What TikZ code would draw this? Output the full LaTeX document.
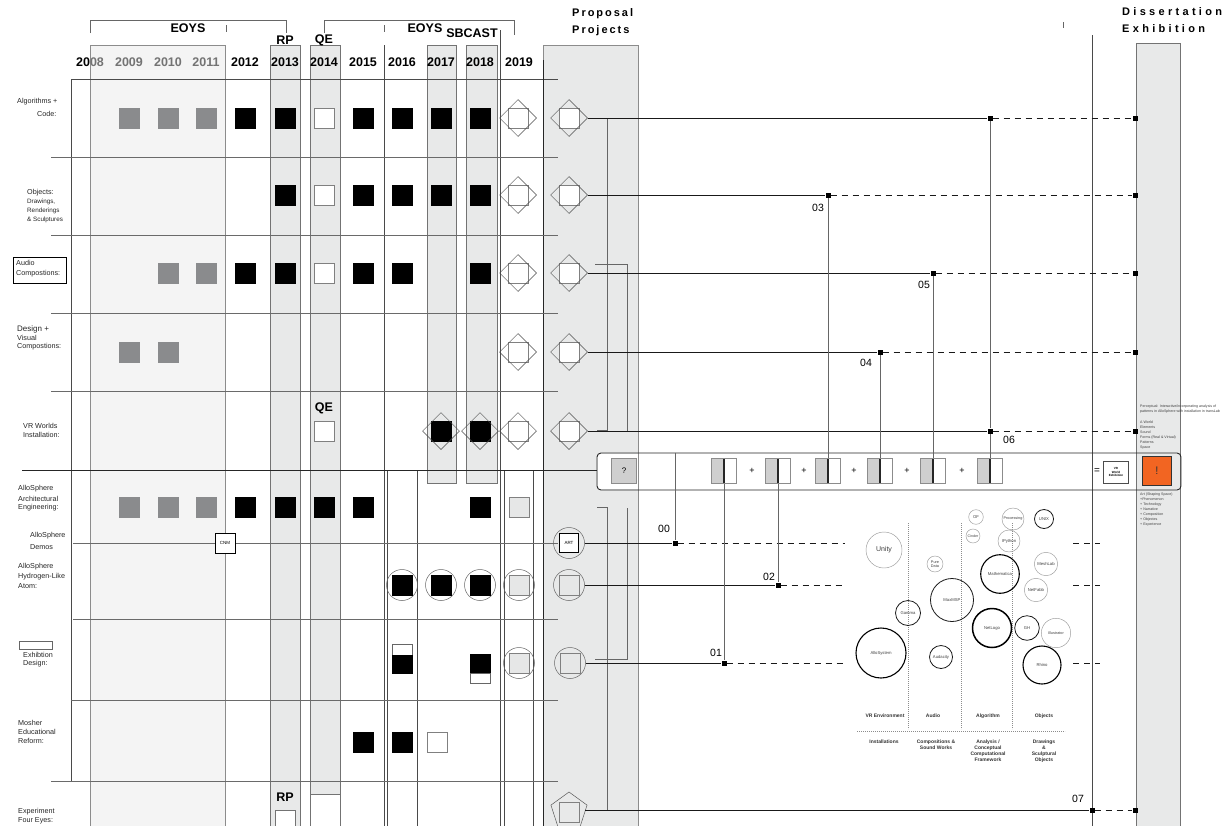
\documentclass[tikz,border=0pt]{standalone}
\usepackage{fontspec}
\setmainfont{Liberation Sans}
\newfontfamily\spcfont{Liberation Sans}[LetterSpace=30]
\newfontfamily\spcfontb{Liberation Sans}[LetterSpace=18]
\usetikzlibrary{shapes.geometric}
\definecolor{shA}{HTML}{F4F4F4}
\definecolor{shB}{HTML}{E8E9E9}
\definecolor{sqG}{HTML}{8A8B8D}
\definecolor{sqL}{HTML}{E6E7E7}
\definecolor{sqS}{HTML}{CFCFCF}
\definecolor{orng}{HTML}{F26522}
\definecolor{lnC}{HTML}{4A4A4A}
\definecolor{rwC}{HTML}{6A6A6A}
\newcommand\myfs[2]{\fontsize{#1}{#2}\selectfont}
\begin{document}
\begin{tikzpicture}[x=1pt,y=-1pt,
  sq/.style={rectangle,minimum size=20pt,inner sep=0pt,line width=0.5pt},
  bk/.style={sq,fill=black,draw=black},
  gy/.style={sq,fill=sqG,draw=sqG},
  wt/.style={sq,fill=white,draw=gray},
  lg/.style={sq,fill=sqL,draw=gray},
  dm/.style={diamond,draw=black!70,minimum size=37pt,inner sep=0pt,line width=0.5pt},
  cr/.style={circle,draw=black!60,minimum size=31pt,inner sep=0pt,line width=0.5pt},
  mk/.style={rectangle,fill=black,minimum size=5pt,inner sep=0pt},
  lbl/.style={font=\myfs{7.2}{8},text=black!85,anchor=west,inner sep=0pt},
  yr/.style={font=\bfseries\myfs{12.5}{14},inner sep=0pt},
  hd/.style={font=\bfseries\myfs{12.5}{14},inner sep=0pt},
  num/.style={font=\myfs{10.5}{12},inner sep=0pt},
  con/.style={line width=0.9pt,black!90},
  dsh/.style={line width=0.9pt,black!90,dash pattern=on 6pt off 5pt},
  vc/.style={line width=0.5pt,black!60},
  br/.style={line width=0.5pt,black!60},
  split/.style={rectangle,minimum size=25pt,inner sep=0pt,draw=black!45,fill=white,line width=0.5pt,
    path picture={\fill[sqS] (path picture bounding box.south west) rectangle (path picture bounding box.north);
      \draw[black!85,line width=1.2pt] (path picture bounding box.south west) rectangle (path picture bounding box.north);}},
  bub/.style={circle,inner sep=0pt,font=\myfs{4.2}{5},text=black!75},
  thin/.style={draw=black!40,line width=0.45pt},
  med/.style={draw=black!90,line width=0.8pt},
  thk/.style={draw=black,line width=1.1pt},
  bl/.style={font=\bfseries\myfs{5}{6},inner sep=0pt,text=black!80,align=center},
  tiny/.style={font=\myfs{3.6}{5},inner sep=0pt,anchor=north west,align=left,text=black!75},
  dot/.style={black!45,line width=0.5pt,dash pattern=on 0.6pt off 1.4pt}
]
\useasboundingbox (0,0) rectangle (1231,825);
\fill[white] (0,0) rectangle (1231,825);

% ---- shaded columns ----
\filldraw[fill=shA,draw=black!45,line width=0.5pt] (90,45) rectangle (225,830);
\filldraw[fill=shB,draw=black!55,line width=0.5pt] (270,45) rectangle (300,830);
\filldraw[fill=shB,draw=black!55,line width=0.5pt] (310,45) rectangle (340,794);
\draw[black!55,line width=0.5pt] (310,794) rectangle (340,830);
\filldraw[fill=shB,draw=black!55,line width=0.5pt] (427,45) rectangle (456,483);
\filldraw[fill=shB,draw=black!55,line width=0.5pt] (466,45) rectangle (497,483);
\filldraw[fill=shB,draw=black!45,line width=0.5pt] (543,45) rectangle (638,830);
\filldraw[fill=shB,draw=black!55,line width=0.5pt] (1136,43) rectangle (1180,830);

% ---- grid ----
\draw[lnC,line width=0.6pt] (71,79) -- (558,79);
\draw[lnC,line width=0.6pt] (71,79) -- (71,781);
\draw[lnC,line width=0.6pt] (384,45) -- (384,830);
\draw[lnC,line width=0.6pt] (500,30) -- (500,830);
\draw[lnC,line width=0.6pt] (387,470) -- (387,830);
\draw[lnC,line width=0.6pt] (417,470) -- (417,830);
\draw[lnC,line width=0.6pt] (504,470) -- (504,830);
\draw[lnC,line width=0.6pt] (533,470) -- (533,830);
\draw[black!85,line width=0.8pt] (543,60) -- (543,830);
\foreach \yy in {157,235,313,391} \draw[rwC,line width=0.6pt] (51,\yy) -- (558,\yy);
\draw[rwC,line width=0.6pt] (73,543) -- (558,543);
\draw[rwC,line width=0.6pt] (73,619) -- (558,619);
\draw[rwC,line width=0.6pt] (71,700) -- (558,700);
\draw[rwC,line width=0.6pt] (51,781) -- (558,781);
\draw[black!85,line width=0.9pt] (22,470) -- (597,470);

% ---- header ----
\draw[black!60,line width=0.6pt] (90,33) -- (90,20) -- (286,20) -- (286,33);
\draw[black!60,line width=0.6pt] (226,25) -- (226,32);
\draw[black!60,line width=0.6pt] (324,33) -- (324,20) -- (514,20) -- (514,35);
\draw[black!60,line width=0.6pt] (384,25) -- (384,32);
\draw[black!60,line width=0.6pt] (1063,22) -- (1063,28);
\node[hd] (hE1) at (188,28) {EOYS};
\node[hd] (hRP) at (285,40) {RP};
\node[hd] (hQE) at (324,40) {QE};
\node[hd] (hE2) at (425,28) {EOYS};
\node[hd] (hSB) at (472,33) {SBCAST};
\node[font=\spcfontb\bfseries\myfs{11}{13},inner sep=0pt,anchor=west] (hPP1) at (572,14) {Proposal};
\node[font=\spcfontb\bfseries\myfs{11}{13},inner sep=0pt,anchor=west] (hPP2) at (572,31) {Projects};
\node[font=\spcfont\bfseries\myfs{11}{13},inner sep=0pt,anchor=west] (hDE1) at (1122,12) {Dissertation};
\node[font=\spcfont\bfseries\myfs{11}{13},inner sep=0pt,anchor=west] (hDE2) at (1122,29) {Exhibition};

% years
\node[yr] (y08) at (90,62) {20\textcolor{black!55}{08}};
\node[yr,text=black!55] (y09) at (129,62) {2009};
\node[yr,text=black!55] (y10) at (168,62) {2010};
\node[yr,text=black!55] (y11) at (206,62) {2011};
\node[yr] (y12) at (245,62) {2012};
\node[yr] (y13) at (285,62) {2013};
\node[yr] (y14) at (324,62) {2014};
\node[yr] (y15) at (363,62) {2015};
\node[yr] (y16) at (402,62) {2016};
\node[yr] (y17) at (441,62) {2017};
\node[yr] (y18) at (480,62) {2018};
\node[yr] (y19) at (519,62) {2019};

% ---- row labels ----
\node[lbl] (lA1) at (17,102) {Algorithms +};
\node[lbl] (lA2) at (37,114) {Code:};
\node[lbl] (lO1) at (27,193) {Objects:};
\node[lbl,font=\myfs{6.3}{7}] (lO2) at (27,202) {Drawings,};
\node[lbl,font=\myfs{6.3}{7}] (lO3) at (27,211) {Renderings};
\node[lbl,font=\myfs{6.3}{7}] (lO4) at (27,220) {\& Sculptures};
\draw[black,line width=0.7pt] (13,257) rectangle (66,283);
\node[lbl] (lAu1) at (16,263) {Audio};
\node[lbl] (lAu2) at (16,274) {Compostions:};
\node[lbl,font=\myfs{8}{9}] (lD1) at (17,329) {Design +};
\node[lbl] (lD2) at (17,338) {Visual};
\node[lbl] (lD3) at (17,347) {Compostions:};
\node[lbl] (lV1) at (23,426) {VR Worlds};
\node[lbl] (lV2) at (23,435) {Installation:};
\node[lbl] (lE1) at (18,489) {AlloSphere};
\node[lbl] (lE2) at (18,499) {Architectural};
\node[lbl] (lE3) at (18,508) {Engineering:};
\node[lbl] (lM1) at (30,536) {AlloSphere};
\node[lbl] (lM2) at (30,547) {Demos};
\node[lbl] (lH1) at (18,567) {AlloSphere};
\node[lbl] (lH2) at (18,577) {Hydrogen-Like};
\node[lbl] (lH3) at (18,586) {Atom:};
\draw[black!60,line width=0.6pt] (19,641) rectangle (52,649);
\node[lbl] (lX1) at (23,655) {Exhibtion};
\node[lbl] (lX2) at (23,664) {Design:};
\node[lbl] (lR1) at (18,723) {Mosher};
\node[lbl] (lR2) at (18,732) {Educational};
\node[lbl] (lR3) at (18,741) {Reform:};
\node[lbl] (lF1) at (18,812) {Experiment};
\node[lbl] (lF2) at (18,821) {Four Eyes:};

% ---- Algorithms row (118) ----
\node[gy] (a09) at (129,118) {};
\node[gy] (a10) at (168,118) {};
\node[gy] (a11) at (206,118) {};
\node[bk] (a12) at (245,118) {};
\node[bk] (a13) at (285,118) {};
\node[wt] (a14) at (324,118) {};
\node[bk] (a15) at (363,118) {};
\node[bk] (a16) at (402,118) {};
\node[bk] (a17) at (441,118) {};
\node[bk] (a18) at (480,118) {};
\node[wt] (a19) at (518,118) {};
\node[dm] (da19) at (518,118) {};
\node[wt] (aP) at (569,118) {};
\node[dm] (daP) at (569,118) {};

% ---- Objects row (195) ----
\node[bk] (o13) at (285,195) {};
\node[wt] (o14) at (324,195) {};
\node[bk] (o15) at (363,195) {};
\node[bk] (o16) at (402,195) {};
\node[bk] (o17) at (441,195) {};
\node[bk] (o18) at (480,195) {};
\node[wt] (o19) at (518,195) {};
\node[dm] (do19) at (518,195) {};
\node[wt] (oP) at (569,195) {};
\node[dm] (doP) at (569,195) {};

% ---- Audio row (273) ----
\node[gy] (u10) at (168,273) {};
\node[gy] (u11) at (206,273) {};
\node[bk] (u12) at (245,273) {};
\node[bk] (u13) at (285,273) {};
\node[wt] (u14) at (324,273) {};
\node[bk] (u15) at (363,273) {};
\node[bk] (u16) at (402,273) {};
\node[bk] (u18) at (480,273) {};
\node[wt] (u19) at (518,273) {};
\node[dm] (du19) at (518,273) {};
\node[wt] (uP) at (569,273) {};
\node[dm] (duP) at (569,273) {};

% ---- Design row (352) ----
\node[gy] (d09) at (129,352) {};
\node[gy] (d10) at (168,352) {};
\node[wt] (d19) at (518,352) {};
\node[dm] (dd19) at (518,352) {};
\node[wt] (dP) at (569,352) {};
\node[dm] (ddP) at (569,352) {};

% ---- VR row (431) ----
\node[hd] (vQE) at (324,408) {QE};
\node[wt] (v14) at (324,431) {};
\node[bk] (v17) at (441,431) {};
\node[dm] (dv17) at (441,431) {};
\node[bk] (v18) at (480,431) {};
\node[dm] (dv18) at (480,431) {};
\node[wt] (v19) at (518,431) {};
\node[dm] (dv19) at (518,431) {};
\node[wt] (vP) at (569,431) {};
\node[dm] (dvP) at (569,431) {};

% ---- AlloSphere Arch row (507) ----
\node[gy] (e09) at (129,507) {};
\node[gy] (e10) at (168,507) {};
\node[gy] (e11) at (206,507) {};
\node[bk] (e12) at (245,507) {};
\node[bk] (e13) at (285,507) {};
\node[bk] (e14) at (324,507) {};
\node[bk] (e15) at (363,507) {};
\node[bk] (e18) at (480,507) {};
\node[lg] (e19) at (519,507) {};

% ---- Demos row (543) ----
\node[sq,fill=white,draw=black,line width=0.7pt,font=\myfs{4.5}{5}] (cnm) at (225,543) {CNM};
\node[cr] (cART) at (569,543) {};
\node[sq,fill=white,draw=black,line width=0.9pt,minimum size=19pt,font=\myfs{4.5}{5}] (art) at (569,543) {ART};

% ---- Hydrogen row (585) ----
\node[cr] (ch16) at (402,585) {};
\node[bk] (h16) at (402,585) {};
\node[cr] (ch17) at (441,585) {};
\node[bk] (h17) at (441,585) {};
\node[cr] (ch18) at (480,585) {};
\node[bk] (h18) at (480,585) {};
\node[cr] (ch19) at (519,585) {};
\node[lg] (h19) at (519,585) {};
\node[cr] (chP) at (569,585) {};
\node[lg] (hP) at (569,585) {};

% ---- Exhibition row (663) ----
\filldraw[fill=white,draw=black!60,line width=0.5pt] (392,644) rectangle (412,655);
\filldraw[fill=black,draw=black] (392,655) rectangle (412,673);
\filldraw[fill=black,draw=black] (470,654) rectangle (490,673);
\filldraw[fill=white,draw=black!60,line width=0.5pt] (470,673) rectangle (490,683);
\node[cr] (cx19) at (519,663) {};
\node[lg] (x19) at (519,663) {};
\node[cr] (cxP) at (570,663) {};
\node[lg] (xP) at (570,663) {};

% ---- Mosher row (742) ----
\node[bk] (r15) at (363,742) {};
\node[bk] (r16) at (402,742) {};
\node[wt] (r17) at (437,742) {};

% ---- Experiment row ----
\node[hd] (fRP) at (285,797) {RP};
\draw[black!55,line width=0.5pt,fill=white] (275,810) rectangle (295,832);
\node[wt,fill=none] (fP) at (569,812) {};
\node[regular polygon,regular polygon sides=5,draw=black!65,minimum size=38pt,inner sep=0pt,line width=0.5pt] (pfP) at (569,811) {};

% ---- proposal brackets ----
\draw[br] (597,118) -- (607,118) -- (607,430) -- (597,430);
\draw[br] (597,507) -- (607,507) -- (607,811);
\draw[br] (595,264) -- (627,264) -- (627,431);
\draw[br] (627,508) -- (627,659) -- (595,659);

% ---- dissertation line ----
\draw[lnC,line width=0.6pt] (1092,35) -- (1092,830);

% ---- bar ----
\fill[white] (598,454) rectangle (638,489);
\node[draw=black!85,line width=0.9pt,rounded corners=4pt,minimum width=584pt,minimum height=37pt,inner sep=0pt] (bar) at (889,471.5) {};
\node[rectangle,minimum size=25pt,inner sep=0pt,fill=sqS,draw=black!45,font=\myfs{8}{9}] (qm) at (624,471) {?};
\node[split] (s1) at (724,471) {};
\node[split] (s2) at (778,471) {};
\node[split] (s3) at (828,471) {};
\node[split] (s4) at (880,471) {};
\node[split] (s5) at (933,471) {};
\node[split] (s6) at (990,471) {};
\node[font=\myfs{9}{10}] (p1) at (752,471) {+};
\node[font=\myfs{9}{10}] (p2) at (804,471) {+};
\node[font=\myfs{9}{10}] (p3) at (854,471) {+};
\node[font=\myfs{9}{10}] (p4) at (907,471) {+};
\node[font=\myfs{9}{10}] (p5) at (962,471) {+};
\node[font=\myfs{10}{11}] (eq) at (1097,471) {=};
\node[rectangle,draw=black!70,fill=white,minimum width=25pt,minimum height=22pt,inner sep=0pt,align=center,font=\bfseries\myfs{3}{3.6}] (vrw) at (1116,472) {VR\\World\\Exhibition};
\node[rectangle,draw=black!80,fill=orng,minimum size=29pt,inner sep=0pt,font=\myfs{11}{12},text=black!80] (ex) at (1157,471) {!};

% ---- markers ----
\node[mk] (mA) at (990,118) {};
\node[mk] (m03) at (828,195) {};
\node[mk] (m05) at (933,273) {};
\node[mk] (m04) at (880,352) {};
\node[mk] (m06) at (990,431) {};
\node[mk] (m00) at (675,543) {};
\node[mk] (m02) at (778,585) {};
\node[mk] (m01) at (724,663) {};
\node[mk] (m07) at (1092,810) {};
\node[mk] (tA) at (1135,118) {};
\node[mk] (tO) at (1135,195) {};
\node[mk] (tU) at (1135,273) {};
\node[mk] (tD) at (1135,352) {};
\node[mk] (tV) at (1135,431) {};
\node[mk] (tF) at (1135,810) {};
\coordinate (c0a) at (845,543);
\coordinate (c0b) at (1073,543);
\coordinate (c0c) at (1100,543);
\coordinate (c2a) at (845,585);
\coordinate (c2b) at (1073,585);
\coordinate (c2c) at (1100,585);
\coordinate (c1a) at (845,663);
\coordinate (c1b) at (1073,663);
\coordinate (c1c) at (1100,663);

% ---- connectors ----
\draw[con] (daP.east) -- (mA);
\draw[dsh] (mA) -- (tA);
\draw[con] (doP.east) -- (m03);
\draw[dsh] (m03) -- (tO);
\draw[con] (duP.east) -- (m05);
\draw[dsh] (m05) -- (tU);
\draw[con] (ddP.east) -- (m04);
\draw[dsh] (m04) -- (tD);
\draw[con] (dvP.east) -- (m06);
\draw[dsh] (m06) -- (tV);
\draw[con] (cART.east) -- (m00);
\draw[dsh] (m00) -- (c0a);
\draw[dsh] (c0b) -- (c0c);
\draw[con] (chP.east) -- (m02);
\draw[dsh] (m02) -- (c2a);
\draw[dsh] (c2b) -- (c2c);
\draw[con] (cxP.east) -- (m01);
\draw[dsh] (m01) -- (c1a);
\draw[dsh] (c1b) -- (c1c);
\draw[con] (pfP.east |- m07) -- (m07);
\draw[dsh] (m07) -- (tF);

\draw[vc] (bar.north -| m00) -- (m00);
\draw[vc] (s1.south) -- (m01);
\draw[vc] (s2.south) -- (m02);
\draw[vc] (s3.north) -- (m03);
\draw[vc] (s4.north) -- (m04);
\draw[vc] (s5.north) -- (m05);
\draw[vc] (s6.north) -- (m06);
\draw[vc] (m06) -- (mA);

\node[num] (n00) at (664,529) {00};
\node[num] (n01) at (716,653) {01};
\node[num] (n02) at (769,577) {02};
\node[num] (n03) at (818,208) {03};
\node[num] (n04) at (866,363) {04};
\node[num] (n05) at (924,285) {05};
\node[num] (n06) at (1009,440) {06};
\node[num] (n07) at (1078,799) {07};

% ---- dissertation notes ----
\node[tiny] (t1) at (1140,405) {Perceptual: Interactive/incorporating analysis of\\patterns in AlloSphere with installation in transLab};
\node[tiny] (t2) at (1140,421) {A World\\Elements\\Sound\\Forms (Real \& Virtual)\\Patterns\\Space};
\node[tiny] (t3) at (1140,493) {Art (Shaping Space)\\+Phenomenon\\+ Technology\\+ Narrative\\+ Composition\\+ Objectes\\+ Experience};

% ---- bubble chart ----
\draw[dot] (908,523) -- (908,729);
\draw[dot] (961,523) -- (961,729);
\draw[dot] (1012,523) -- (1012,729);
\draw[dot] (857,731) -- (1065,731);
\node[bub,thin,minimum size=36pt,font=\myfs{7}{8}] (bUnity) at (884,550) {Unity};
\node[bub,thk,minimum size=50pt] (bAllo) at (881,653) {AlloSystem};
\node[bub,med,minimum size=25pt] (bGam) at (908,613) {Gamma};
\node[bub,thin,minimum size=16pt,align=center,font=\myfs{3.8}{4.2}] (bPD) at (935,564) {Pure\\Data};
\node[bub,med,minimum size=43pt] (bMax) at (952,600) {MaxMSP};
\node[bub,med,minimum size=23pt] (bAud) at (941,657) {Audacity};
\node[bub,thin,minimum size=14.6pt] (bOF) at (976,517) {OF};
\node[bub,thin,minimum size=14pt,font=\myfs{3.6}{4}] (bCin) at (973,536) {Cinder};
\node[bub,thin,minimum size=22pt,font=\myfs{3.8}{4}] (bProc) at (1013,519) {Processing};
\node[bub,thin,minimum size=22pt] (bIPy) at (1009,541) {IPython};
\node[bub,thk,minimum size=38.6pt] (bMath) at (1000,574) {Mathematica};
\node[bub,draw=black,line width=1.5pt,minimum size=39pt] (bNet) at (992,628) {NetLogo};
\node[bub,med,minimum size=19pt] (bUnix) at (1044,519) {UNIX};
\node[bub,thin,minimum size=23.4pt] (bMesh) at (1046,564) {MeshLab};
\node[bub,thin,minimum size=23.4pt] (bFab) at (1036,590) {NetFabb};
\node[bub,med,minimum size=24.6pt] (bGH) at (1027,628) {GH};
\node[bub,thin,minimum size=29.4pt,font=\myfs{3.8}{4}] (bIll) at (1056,633) {Illustrator};
\node[bub,thk,minimum size=38pt] (bRh) at (1042,665) {Rhino};
\node[bl] (c1) at (885,716) {VR Environment};
\node[bl] (c2) at (933,716) {Audio};
\node[bl] (c3) at (988,716) {Algorithm};
\node[bl] (c4) at (1044,716) {Objects};
\node[bl,anchor=north] (k1) at (884,740) {Installations};
\node[bl,anchor=north] (k2) at (936,740) {Compositions \&\\Sound Works};
\node[bl,anchor=north] (k3) at (988,740) {Analysis /\\Conceptual\\Computational\\Framework};
\node[bl,anchor=north] (k4) at (1044,740) {Drawings\\\&\\Sculptural\\Objects};
\end{tikzpicture}
\end{document}
